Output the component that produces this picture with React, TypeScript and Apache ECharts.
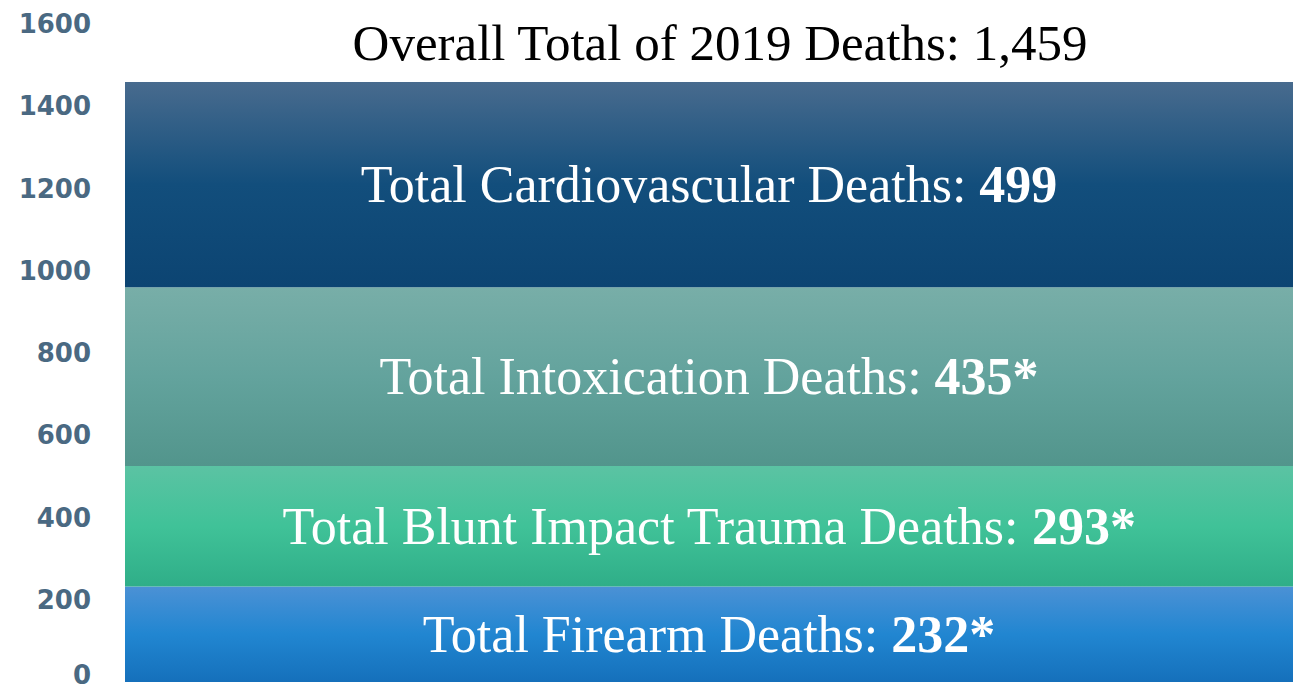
import React, { useEffect, useRef } from "react";
import * as echarts from "echarts";

const categories = ["2019"];
const segmentNames = [
  "Total Firearm Deaths",
  "Total Blunt Impact Trauma Deaths",
  "Total Intoxication Deaths",
  "Total Cardiovascular Deaths",
];
const segmentValues = [232, 293, 435, 499];
const segmentMarks = ["*", "*", "*", ""];
const overallTotal = "1,459";
const gradients = [
  ["#4b91d5", "#2186d1", "#1570bb"],
  ["#5bc3a3", "#40c298", "#2fae88"],
  ["#78aea8", "#63a39d", "#52958c"],
  ["#486b8e", "#124e7c", "#0c4472"],
];
const yTicks = { min: 0, max: 1600, interval: 200 };

export default function App() {
  const ref = useRef<HTMLDivElement>(null);
  useEffect(() => {
    document.body.style.margin = "0";
    const chart = echarts.init(ref.current!, null, { renderer: "svg" });
    const series = segmentNames.map((name, i) => ({
      name,
      type: "bar",
      stack: "total",
      barWidth: "100%",
      data: [segmentValues[i]],
      itemStyle: {
        color: new echarts.graphic.LinearGradient(0, 0, 0, 1, [
          { offset: 0, color: gradients[i][0] },
          { offset: 0.5, color: gradients[i][1] },
          { offset: 1, color: gradients[i][2] },
        ]),
      },
      label: {
        show: true,
        position: "inside",
        formatter: () => `{n|${name}: }{b|${segmentValues[i]}${segmentMarks[i]}}`,
        rich: {
          n: { fontFamily: "Liberation Serif", fontSize: 52, color: "#ffffff" },
          b: { fontFamily: "Liberation Serif", fontSize: 52, fontWeight: "bold", color: "#ffffff" },
        },
      },
    }));
    const tickFont = {
      fontFamily: "DejaVu Sans",
      fontWeight: "bold",
      fontSize: 26,
      lineHeight: 18,
      color: "#4a6982",
    };
    chart.setOption({
      animation: false,
      title: {
        text: `Overall Total of 2019 Deaths: ${overallTotal}`,
        left: 715,
        textAlign: "center",
        top: 12,
        textStyle: { fontFamily: "Liberation Serif", fontSize: 51, fontWeight: "normal", color: "#000000" },
      },
      grid: { left: 125, right: 0, top: 24, bottom: 9, outerBoundsMode: "none", containLabel: false },
      xAxis: {
        type: "category",
        data: categories,
        show: false,
        boundaryGap: true,
      },
      yAxis: {
        type: "value",
        min: yTicks.min,
        max: yTicks.max,
        interval: yTicks.interval,
        splitLine: { show: false },
        axisLine: { show: false },
        axisTick: { show: false },
        axisLabel: {
          margin: 34,
          formatter: (v: number) => (v === 0 ? "{z|0}" : String(v)),
          ...tickFont,
          rich: {
            z: { ...tickFont, padding: [0, 0, 14, 0] },
          },
        },
      },
      series,
    });
    return () => chart.dispose();
  }, []);
  return <div ref={ref} style={{ width: 1293, height: 691 }} />;
}
